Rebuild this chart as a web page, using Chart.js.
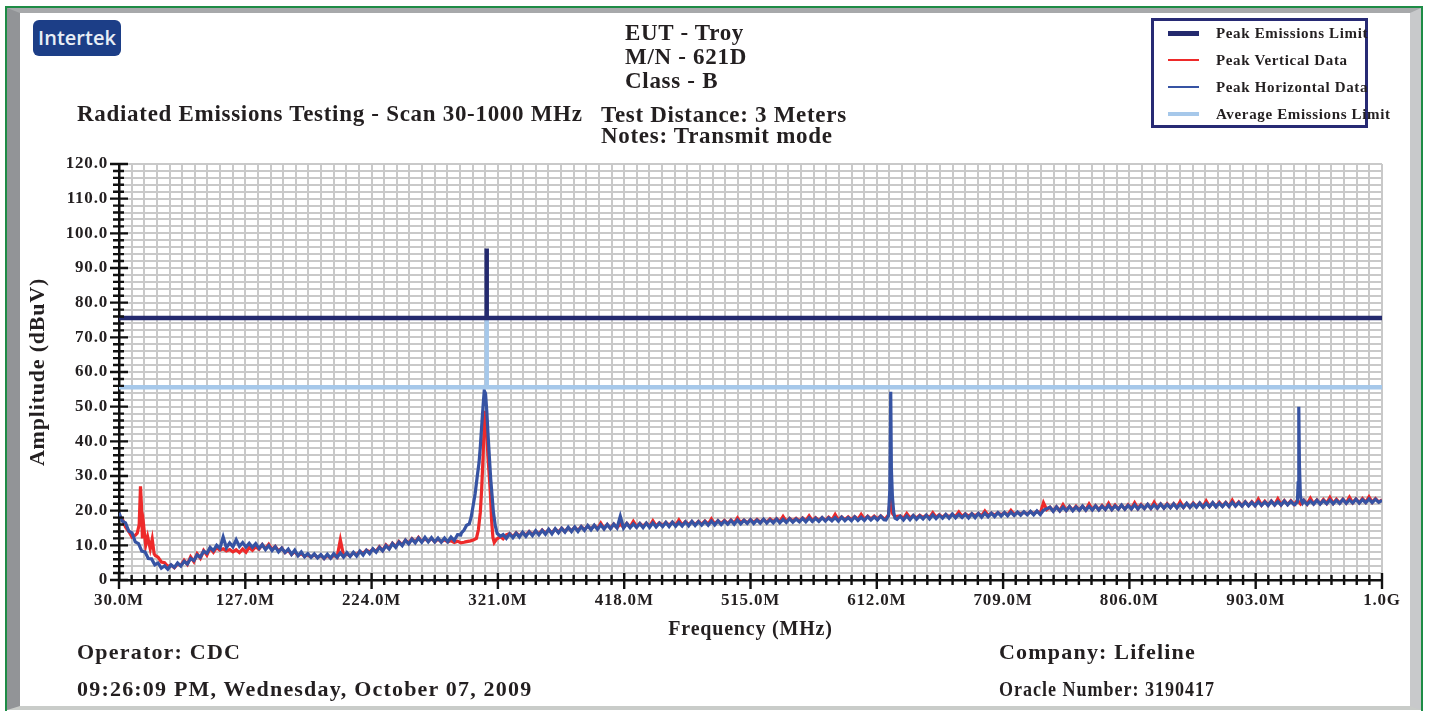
<!DOCTYPE html>
<html>
<head>
<meta charset="utf-8">
<script src="https://cdn.jsdelivr.net/npm/chart.js@4.4.1/dist/chart.umd.min.js"></script>
<style>
  html, body { margin: 0; padding: 0; background: #fff; }
  body { width: 1430px; height: 711px; position: relative; overflow: hidden; font-family: "Liberation Serif", serif; color: #231f20; }
  .frame-green { position: absolute; left: 5px; top: 6px; width: 1418px; height: 707px; box-sizing: border-box; border: 2px solid #1e8c46; }
  .frame-bevel { position: absolute; left: 7px; top: 8px; width: 1414px; height: 702px; box-sizing: border-box; background: #fff;
    border-left: 13px solid #929497; border-top: 5px solid #a7a9ab; border-right: 11px solid #c8c9cb; border-bottom: 4px solid #c9ccc9; }
  #chart { position: absolute; left: 0; top: 0; }
  .txt { position: absolute; white-space: nowrap; font-weight: bold; line-height: 1; }
  .t23 { font-size: 23px; letter-spacing: 0.7px; }
  .t22 { font-size: 22px; letter-spacing: 1.2px; }
  .logo { position: absolute; left: 33px; top: 20px; width: 88px; height: 36px; border-radius: 6px; background: #1c3e87;
    color: #e8eef6; font-family: "Open Sans", sans-serif; font-weight: 600; font-size: 20px; line-height: 36px; text-align: center; }
  .legend { position: absolute; left: 1151px; top: 18px; width: 217px; height: 110px; box-sizing: border-box; border: 3px solid #272a74; }
  .leg-line { position: absolute; left: 1168px; width: 31px; }
  .leg-txt { position: absolute; left: 1216px; font-size: 15px; letter-spacing: 0.65px; font-weight: bold; white-space: nowrap; line-height: 1; }
</style>
</head>
<body>
<div class="frame-green"></div>
<div class="frame-bevel"></div>
<canvas id="chart" width="1430" height="711"></canvas>

<div class="logo">Intertek</div>

<div class="txt t23" style="left:625px; top:20.7px;">EUT - Troy</div>
<div class="txt t23" style="left:625px; top:44.7px;">M/N - 621D</div>
<div class="txt t23" style="left:625px; top:68.7px;">Class - B</div>
<div class="txt t23" style="left:77px; top:101.7px;">Radiated Emissions Testing - Scan 30-1000 MHz</div>
<div class="txt t23" style="left:601px; top:102.7px;">Test Distance: 3 Meters</div>
<div class="txt t23" style="left:601px; top:123.7px;">Notes: Transmit mode</div>

<div class="legend"></div>
<div class="leg-line" style="top:31px; height:5px; background:#242a6e;"></div>
<div class="leg-line" style="top:59px; height:2px; background:#ee2a2a;"></div>
<div class="leg-line" style="top:86px; height:2px; background:#3653a3;"></div>
<div class="leg-line" style="top:112px; height:4px; background:#a6c8ea;"></div>
<div class="leg-txt" style="top:26.4px;">Peak Emissions Limit</div>
<div class="leg-txt" style="top:53.4px;">Peak Vertical Data</div>
<div class="leg-txt" style="top:80.4px;">Peak Horizontal Data</div>
<div class="leg-txt" style="top:107.4px;">Average Emissions Limit</div>

<div class="txt t22" style="left:77px; top:640.6px;">Operator: CDC</div>
<div class="txt t22" style="left:77px; top:677.6px;">09:26:09 PM, Wednesday, October 07, 2009</div>
<div class="txt t22" style="left:999px; top:640.6px;">Company: Lifeline</div>
<div class="txt t22" style="left:999px; top:677.6px; transform: scaleX(0.82); transform-origin: left center;">Oracle Number: 3190417</div>

<script>
// Frequências da varredura (MHz), passo de 2,5 MHz
const scanFreq = [
  30, 32.5, 35, 37.5, 40, 42.5, 45, 47.5, 50, 52.5, 55, 57.5, 60, 62.5, 65, 67.5, 70, 72.5, 75, 77.5,
  80, 82.5, 85, 87.5, 90, 92.5, 95, 97.5, 100, 102.5, 105, 107.5, 110, 112.5, 115, 117.5, 120, 122.5, 125, 127.5,
  130, 132.5, 135, 137.5, 140, 142.5, 145, 147.5, 150, 152.5, 155, 157.5, 160, 162.5, 165, 167.5, 170, 172.5, 175, 177.5,
  180, 182.5, 185, 187.5, 190, 192.5, 195, 197.5, 200, 202.5, 205, 207.5, 210, 212.5, 215, 217.5, 220, 222.5, 225, 227.5,
  230, 232.5, 235, 237.5, 240, 242.5, 245, 247.5, 250, 252.5, 255, 257.5, 260, 262.5, 265, 267.5, 270, 272.5, 275, 277.5,
  280, 282.5, 285, 287.5, 290, 292.5, 295, 297.5, 300, 302.5, 305, 307.5, 310, 312.5, 315, 317.5, 320, 322.5, 325, 327.5,
  330, 332.5, 335, 337.5, 340, 342.5, 345, 347.5, 350, 352.5, 355, 357.5, 360, 362.5, 365, 367.5, 370, 372.5, 375, 377.5,
  380, 382.5, 385, 387.5, 390, 392.5, 395, 397.5, 400, 402.5, 405, 407.5, 410, 412.5, 415, 417.5, 420, 422.5, 425, 427.5,
  430, 432.5, 435, 437.5, 440, 442.5, 445, 447.5, 450, 452.5, 455, 457.5, 460, 462.5, 465, 467.5, 470, 472.5, 475, 477.5,
  480, 482.5, 485, 487.5, 490, 492.5, 495, 497.5, 500, 502.5, 505, 507.5, 510, 512.5, 515, 517.5, 520, 522.5, 525, 527.5,
  530, 532.5, 535, 537.5, 540, 542.5, 545, 547.5, 550, 552.5, 555, 557.5, 560, 562.5, 565, 567.5, 570, 572.5, 575, 577.5,
  580, 582.5, 585, 587.5, 590, 592.5, 595, 597.5, 600, 602.5, 605, 607.5, 610, 612.5, 615, 617.5, 620, 622.5, 625, 627.5,
  630, 632.5, 635, 637.5, 640, 642.5, 645, 647.5, 650, 652.5, 655, 657.5, 660, 662.5, 665, 667.5, 670, 672.5, 675, 677.5,
  680, 682.5, 685, 687.5, 690, 692.5, 695, 697.5, 700, 702.5, 705, 707.5, 710, 712.5, 715, 717.5, 720, 722.5, 725, 727.5,
  730, 732.5, 735, 737.5, 740, 742.5, 745, 747.5, 750, 752.5, 755, 757.5, 760, 762.5, 765, 767.5, 770, 772.5, 775, 777.5,
  780, 782.5, 785, 787.5, 790, 792.5, 795, 797.5, 800, 802.5, 805, 807.5, 810, 812.5, 815, 817.5, 820, 822.5, 825, 827.5,
  830, 832.5, 835, 837.5, 840, 842.5, 845, 847.5, 850, 852.5, 855, 857.5, 860, 862.5, 865, 867.5, 870, 872.5, 875, 877.5,
  880, 882.5, 885, 887.5, 890, 892.5, 895, 897.5, 900, 902.5, 905, 907.5, 910, 912.5, 915, 917.5, 920, 922.5, 925, 927.5,
  930, 932.5, 935, 937.5, 940, 942.5, 945, 947.5, 950, 952.5, 955, 957.5, 960, 962.5, 965, 967.5, 970, 972.5, 975, 977.5,
  980, 982.5, 985, 987.5, 990, 992.5, 995, 997.5, 1000,
];

// Peak Horizontal Data (dBuV)
const horizBase = [
  19.4, 17.0, 16.5, 14.1, 13.6, 11.0, 10.5, 8.3, 8.1, 6.2, 6.1, 4.4, 4.9, 3.4, 4.1, 3.1, 4.4, 3.6, 4.9, 4.0,
  5.4, 4.6, 6.2, 5.6, 7.2, 6.6, 8.3, 7.7, 9.4, 8.5, 10.0, 9.1, 12.4, 9.3, 10.7, 9.6, 11.6, 9.7, 10.8, 9.5,
  10.6, 9.4, 10.5, 9.1, 10.2, 8.8, 9.9, 8.5, 9.6, 8.1, 9.2, 7.9, 8.9, 7.4, 8.6, 7.0, 8.1, 6.7, 7.6, 6.5,
  7.5, 6.4, 7.3, 6.2, 7.4, 6.3, 7.6, 6.5, 7.8, 6.6, 7.9, 6.8, 8.0, 6.9, 8.3, 7.2, 8.6, 7.6, 9.0, 8.0,
  9.4, 8.4, 9.9, 8.9, 10.5, 9.4, 10.9, 9.9, 11.5, 10.4, 11.8, 10.7, 12.1, 10.9, 12.3, 11.0, 12.2, 11.0, 12.1, 10.9,
  12.1, 11.0, 12.4, 11.4, 13.1, 13.0, 15.0, 16.0, 17.0, 21.0, 29.0, 38.0, 52.0, 48.0, 36.0, 20.0, 15.0, 13.5, 13.1, 12.0,
  13.3, 12.2, 13.5, 12.4, 13.8, 12.6, 13.9, 12.8, 14.2, 13.0, 14.3, 13.2, 14.6, 13.3, 14.8, 13.6, 14.9, 13.8, 15.2, 14.0,
  15.3, 14.0, 15.4, 14.3, 15.7, 14.5, 15.8, 14.6, 15.9, 14.7, 16.0, 14.8, 16.1, 15.0, 18.4, 15.0, 16.3, 15.1, 16.2, 15.2,
  16.3, 15.1, 16.4, 15.2, 16.5, 15.3, 16.4, 15.4, 16.6, 15.4, 16.7, 15.5, 16.6, 15.6, 16.8, 15.6, 16.9, 15.7, 16.8, 15.8,
  16.9, 15.8, 17.0, 15.9, 17.1, 16.0, 17.0, 16.1, 17.2, 16.1, 17.3, 16.2, 17.2, 16.3, 17.4, 16.3, 17.3, 16.4, 17.5, 16.4,
  17.4, 16.5, 17.6, 16.5, 17.5, 16.6, 17.7, 16.7, 17.6, 16.8, 17.8, 16.8, 17.9, 16.9, 17.8, 16.9, 18.0, 17.0, 17.9, 17.1,
  18.0, 17.0, 18.1, 17.1, 18.0, 17.1, 18.2, 17.2, 18.1, 17.2, 18.3, 17.3, 18.2, 17.3, 18.4, 17.4, 18.0, 19.0, 18.0, 17.5,
  18.4, 17.3, 18.5, 17.4, 18.6, 17.5, 18.5, 17.6, 18.7, 17.6, 18.8, 17.7, 18.7, 17.8, 18.9, 17.8, 19.0, 17.9, 18.9, 18.0,
  19.0, 17.9, 19.1, 18.0, 19.2, 18.1, 19.3, 18.2, 19.3, 18.3, 19.4, 18.4, 19.5, 18.5, 19.6, 18.6, 19.6, 18.7, 19.7, 18.8,
  19.8, 18.8, 19.9, 18.9, 20.1, 20.6, 21.0, 19.8, 21.1, 19.9, 21.0, 20.0, 21.2, 20.0, 21.1, 20.1, 21.3, 20.1, 21.2, 20.2,
  21.4, 20.2, 21.3, 20.3, 21.5, 20.3, 21.4, 20.4, 21.6, 20.4, 21.5, 20.5, 21.7, 20.5, 21.6, 20.6, 21.8, 20.6, 21.7, 20.7,
  21.9, 20.7, 21.8, 20.8, 22.0, 20.8, 21.9, 20.9, 22.1, 20.9, 22.0, 21.0, 22.2, 21.0, 22.1, 21.1, 22.3, 21.1, 22.2, 21.2,
  22.3, 21.2, 22.4, 21.3, 22.3, 21.3, 22.5, 21.4, 22.4, 21.4, 22.6, 21.5, 22.5, 21.5, 22.7, 21.6, 22.6, 21.6, 22.8, 21.7,
  22.7, 21.7, 22.0, 22.4, 22.9, 21.8, 22.8, 21.9, 23.0, 21.9, 22.9, 22.0, 23.1, 22.0, 23.0, 22.1, 23.2, 22.1, 23.1, 22.2,
  23.3, 22.2, 23.2, 22.3, 23.4, 22.3, 23.3, 22.4, 23.0,
];

// Peak Vertical Data (dBuV)
const vertBase = [
  18.6, 17.6, 15.3, 14.0, 12.4, 13.0, 16.0, 20.0, 11.0, 12.0, 9.0, 10.0, 6.6, 5.2, 5.0, 3.9, 4.3, 3.5, 4.6, 4.2,
  5.7, 4.5, 6.7, 5.3, 7.6, 6.3, 8.5, 7.2, 9.2, 8.0, 9.4, 8.6, 9.0, 8.4, 8.8, 8.1, 8.7, 7.9, 8.9, 8.0,
  9.4, 8.6, 9.6, 8.9, 10.2, 9.0, 10.3, 8.8, 9.7, 8.4, 9.2, 7.9, 8.6, 7.4, 8.2, 7.1, 7.6, 6.8, 7.3, 6.6,
  7.3, 6.5, 7.1, 6.2, 7.1, 6.3, 7.2, 6.6, 11.6, 7.0, 7.5, 6.9, 7.8, 7.3, 8.2, 7.7, 8.6, 8.1, 8.9, 8.3,
  9.6, 8.5, 10.1, 9.1, 10.6, 9.6, 11.1, 10.1, 11.5, 10.6, 11.9, 10.9, 12.3, 11.1, 11.9, 11.2, 12.0, 11.0, 11.8, 11.1,
  11.6, 11.0, 11.3, 10.8, 11.2, 10.7, 10.9, 11.0, 11.3, 11.6, 14.0, 20.0, 43.0, 42.0, 25.0, 12.0, 11.8, 12.3, 11.9, 13.0,
  13.4, 12.5, 13.6, 12.7, 13.7, 12.9, 14.0, 13.1, 14.1, 13.3, 14.4, 13.5, 14.5, 13.6, 14.7, 13.8, 14.9, 14.0, 15.0, 14.2,
  15.2, 14.3, 15.4, 14.5, 15.6, 14.7, 15.7, 14.8, 16.4, 14.9, 16.0, 15.0, 16.1, 15.1, 16.2, 15.2, 16.3, 15.3, 16.9, 15.4,
  16.3, 15.5, 16.4, 15.5, 17.1, 15.6, 16.5, 15.7, 16.6, 15.8, 16.7, 15.8, 17.3, 15.9, 16.8, 16.0, 16.9, 16.0, 16.9, 16.1,
  17.0, 16.1, 17.6, 16.2, 17.1, 16.3, 17.2, 16.3, 17.3, 16.4, 17.9, 16.5, 17.3, 16.5, 17.4, 16.6, 17.5, 16.7, 17.5, 16.7,
  17.6, 16.8, 17.7, 16.8, 18.3, 16.9, 17.8, 17.0, 17.8, 17.0, 17.9, 17.1, 18.5, 17.1, 18.0, 17.2, 18.0, 17.2, 18.1, 17.3,
  18.9, 17.3, 18.2, 17.4, 18.2, 17.4, 18.3, 17.5, 18.9, 17.5, 18.4, 17.6, 18.4, 17.6, 18.5, 17.7, 18.0, 18.0, 18.0, 18.4,
  18.5, 17.8, 19.2, 17.9, 18.6, 17.9, 18.7, 18.0, 18.7, 18.0, 19.4, 18.1, 18.8, 18.1, 18.9, 18.2, 18.9, 18.3, 19.6, 18.3,
  19.1, 18.4, 19.1, 18.5, 19.2, 18.5, 19.9, 18.6, 19.3, 18.7, 19.4, 18.8, 19.4, 18.8, 20.1, 18.9, 19.5, 19.0, 19.6, 19.0,
  19.7, 19.1, 19.8, 19.2, 22.3, 20.3, 21.0, 19.9, 21.1, 20.0, 21.7, 20.1, 21.2, 20.1, 21.3, 20.2, 21.3, 20.2, 21.9, 20.3,
  21.4, 20.3, 21.5, 20.4, 22.1, 20.4, 21.6, 20.5, 21.6, 20.5, 21.7, 20.6, 22.3, 20.6, 21.8, 20.7, 21.8, 20.7, 22.4, 20.8,
  21.9, 20.8, 22.0, 20.9, 22.0, 20.9, 22.6, 21.0, 22.1, 21.0, 22.2, 21.1, 22.2, 21.1, 22.8, 21.2, 22.3, 21.2, 22.4, 21.3,
  22.4, 21.3, 23.0, 21.4, 22.5, 21.4, 22.6, 21.5, 22.6, 21.5, 23.3, 21.6, 22.7, 21.6, 22.8, 21.7, 23.4, 21.7, 22.9, 21.8,
  22.9, 21.8, 23.0, 21.9, 23.0, 21.9, 23.6, 22.0, 23.1, 22.0, 23.2, 22.1, 23.8, 22.1, 23.3, 22.2, 23.3, 22.2, 23.9, 22.3,
  23.4, 22.3, 23.5, 22.4, 24.0, 22.4, 23.5, 22.5, 23.1,
];

// Picos lidos em detalhe (substituem a varredura dentro de cada janela)
const horizFundFreq = [293, 295, 297, 299, 300.5, 302, 303.5, 305, 306.5, 307.5, 308.5, 309.5, 310.5, 311.5, 312.5, 313.5, 314.5, 315.5, 316.5, 317.5, 319, 320.5, 323];
const horizFundAmp  = [13.6, 14.4, 15.8, 16.2, 18.2, 21.5, 24.8, 29.5, 33.8, 38.5, 44.2, 49.6, 54.6, 53.8, 48.5, 41.5, 35.2, 29.0, 24.5, 19.8, 15.6, 13.4, 12.6];
const horizSpur1Freq = [619, 621, 622, 622.7, 623.2, 624, 625, 626];
const horizSpur1Amp  = [17.3, 18.5, 26.0, 54.3, 32.0, 24.0, 19.5, 17.8];
const horizSpur2Freq = [933, 935, 935.6, 936.1, 936.6, 937.3, 938, 939];
const horizSpur2Amp  = [21.8, 22.5, 28.0, 50.0, 33.0, 24.5, 23.0, 22.2];

const vertLowFreq = [41, 42.5, 44, 45.5, 46.5, 47.2, 48, 49, 50.5, 52, 54, 55.5, 57, 58];
const vertLowAmp  = [12.6, 12.9, 13.5, 16.0, 27.0, 22.0, 12.0, 15.5, 10.0, 12.5, 9.0, 11.8, 7.5, 7.0];
const vertFundFreq = [296, 300, 302.5, 304.5, 306, 307.5, 308.5, 309.5, 310.3, 311, 311.7, 312.5, 313.4, 314.3, 315.2, 316.2, 317.2, 318.2, 320, 323];
const vertFundAmp  = [11.0, 11.3, 11.6, 12.0, 14.5, 19.5, 26.0, 34.5, 43.0, 48.8, 46.5, 42.0, 35.2, 30.5, 25.0, 17.0, 12.2, 10.8, 11.8, 12.5];
const vertSpur1Freq = [619, 621, 622.5, 624, 626];
const vertSpur1Amp  = [17.8, 18.8, 24.0, 19.2, 18.2];

// Limites
const limitFreq    = [30, 312.4, 312.4, 312.4, 1000];
const peakLimitAmp = [75.6, 75.6, 95.6, 75.6, 75.6];
const avgLimitAmp  = [55.6, 55.6, 75.6, 55.6, 55.6];

const FONTE = "'Liberation Serif', serif";

function montarTraco(base, janelas) {
  const pontos = [];
  scanFreq.forEach((f, i) => {
    const dentro = janelas.some(([fs]) => f > fs[0] && f < fs[fs.length - 1]);
    if (!dentro) pontos.push({ x: f, y: base[i] });
  });
  janelas.forEach(([fs, as]) => fs.forEach((f, i) => pontos.push({ x: f, y: as[i] })));
  return pontos.sort((a, b) => a.x - b.x);
}

function pares(xs, ys) {
  return xs.map((x, i) => ({ x, y: ys[i] }));
}

// Marcas de escala cruzando os eixos (maiores a cada 10 divisões)
const marcasEixo = {
  id: "marcasEixo",
  beforeDraw(chart) {
    chart.ctx.letterSpacing = "0.8px";
  },
  afterDatasetsDraw(chart) {
    const { ctx, chartArea, scales } = chart;
    ctx.save();
    ctx.strokeStyle = "#111";
    ctx.lineWidth = 2.4;
    ctx.beginPath();
    scales.y.ticks.forEach((t) => {
      const py = scales.y.getPixelForValue(t.value);
      const maior = t.value % 10 === 0;
      ctx.moveTo(chartArea.left - (maior ? 9 : 6), py);
      ctx.lineTo(chartArea.left + (maior ? 9 : 5), py);
    });
    scales.x.ticks.forEach((t, i) => {
      const px = scales.x.getPixelForValue(t.value);
      const maior = i % 10 === 0;
      ctx.moveTo(px, chartArea.bottom - (maior ? 7 : 5));
      ctx.lineTo(px, chartArea.bottom + (maior ? 9 : 5));
    });
    ctx.stroke();
    ctx.restore();
  },
};

function zerarPadding(scale) {
  scale.paddingLeft = 0;
  scale.paddingRight = 0;
  scale.paddingTop = 0;
  scale.paddingBottom = 0;
}

new Chart(document.getElementById("chart"), {
  type: "line",
  data: {
    datasets: [
      { label: "Peak Emissions Limit", data: pares(limitFreq, peakLimitAmp), borderColor: "#242a6e", borderWidth: 4.5, order: 0 },
      { label: "Peak Vertical Data", data: montarTraco(vertBase, [[vertLowFreq, vertLowAmp], [vertFundFreq, vertFundAmp], [vertSpur1Freq, vertSpur1Amp]]), borderColor: "#ee2a2a", borderWidth: 3.2, order: 2 },
      { label: "Peak Horizontal Data", data: montarTraco(horizBase, [[horizFundFreq, horizFundAmp], [horizSpur1Freq, horizSpur1Amp], [horizSpur2Freq, horizSpur2Amp]]), borderColor: "#3653a3", borderWidth: 3.2, order: 1 },
      { label: "Average Emissions Limit", data: pares(limitFreq, avgLimitAmp), borderColor: "#a6c8ea", borderWidth: 4.5, order: 0 },
    ],
  },
  options: {
    responsive: false,
    animation: false,
    devicePixelRatio: 1,
    elements: { point: { radius: 0 }, line: { tension: 0, fill: false } },
    layout: { padding: { left: 21, right: 48, top: 164, bottom: 65 } },
    plugins: { legend: { display: false }, tooltip: { enabled: false } },
    scales: {
      x: {
        type: "linear",
        min: 30,
        max: 1000,
        afterFit: (s) => { s.height = 66; zerarPadding(s); },
        ticks: {
          stepSize: 9.7,
          autoSkip: false,
          maxRotation: 0,
          padding: 10,
          color: "#231f20",
          font: { family: FONTE, size: 17, weight: "bold" },
          callback: (v, i) => {
            if (i % 10 !== 0) return "";
            return v >= 1000 ? (v / 1000).toFixed(1) + "G" : v.toFixed(1) + "M";
          },
        },
        grid: { color: "#c9c9c9", lineWidth: 2, drawTicks: false },
        border: { color: "#111", width: 2.5 },
        title: { display: true, text: "Frequency (MHz)", color: "#231f20", font: { family: FONTE, size: 20, weight: "bold" } },
      },
      y: {
        type: "linear",
        min: 0,
        max: 120,
        afterFit: (s) => { s.width = 98; zerarPadding(s); },
        ticks: {
          stepSize: 2,
          autoSkip: false,
          padding: 11,
          color: "#231f20",
          font: { family: FONTE, size: 17, weight: "bold" },
          callback: (v) => (v % 10 !== 0 ? "" : v === 0 ? "0" : v.toFixed(1)),
        },
        grid: { color: "#c9c9c9", lineWidth: 2, drawTicks: false },
        border: { color: "#111", width: 2.5 },
        title: { display: true, text: "Amplitude (dBuV)", color: "#231f20", font: { family: FONTE, size: 22, weight: "bold" } },
      },
    },
  },
  plugins: [marcasEixo],
});
</script>
</body>
</html>
